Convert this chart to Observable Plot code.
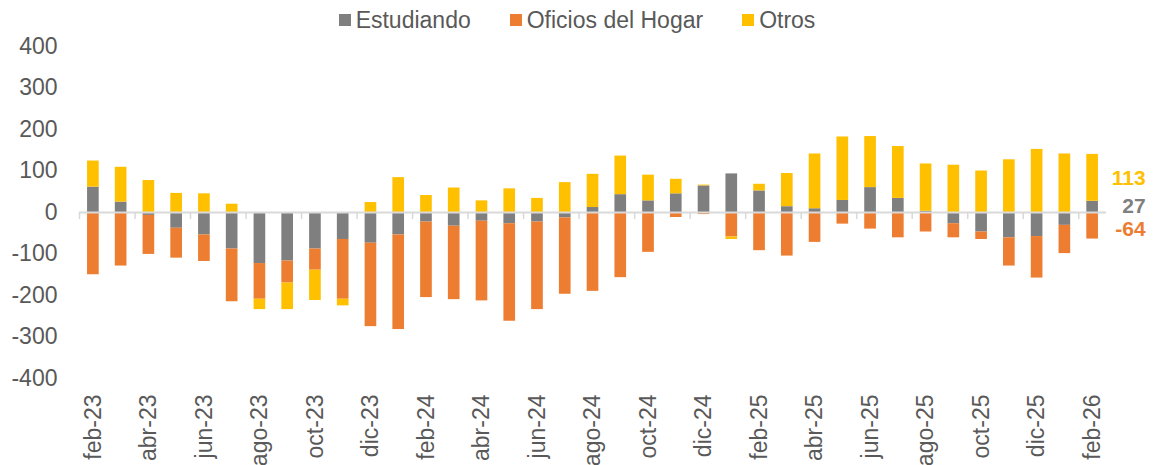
<!DOCTYPE html>
<html>
<head>
<meta charset="utf-8">
<script src="https://cdn.jsdelivr.net/npm/d3@7"></script>
<script src="https://cdn.jsdelivr.net/npm/@observablehq/plot@0.6"></script>
<style>
  body { margin: 0; background: #fff; font-family: "Liberation Sans", Arial, sans-serif; }
  #legend { box-sizing: border-box; height: 36px; padding-top: 7px; display: flex; justify-content: center; align-items: flex-start; font-size: 23px; line-height: 26px; color: #595959; }
  .item { display: flex; align-items: center; }
  .item + .item { margin-left: 39px; }
  .sw { width: 12px; height: 12px; margin-right: 5px; }
  #chart svg { display: block; }
</style>
</head>
<body>
<div id="legend"></div>
<div id="chart"></div>
<script>
const months = ["feb-23","mar-23","abr-23","may-23","jun-23","jul-23","ago-23","sep-23","oct-23","nov-23","dic-23","ene-24","feb-24","mar-24","abr-24","may-24","jun-24","jul-24","ago-24","sep-24","oct-24","nov-24","dic-24","ene-25","feb-25","mar-25","abr-25","may-25","jun-25","jul-25","ago-25","sep-25","oct-25","nov-25","dic-25","ene-26","feb-26"];
const estudiando = [61,25,-7,-38,-54,-88,-123,-117,-88,-65,-74,-54,-23,-33,-21,-27,-23,-13,12,43,28,45,64,93,52,14,9,29,60,34,3,-27,-47,-61,-58,-31,27];
const oficios = [-150,-129,-94,-72,-64,-127,-86,-53,-51,-144,-201,-228,-182,-177,-192,-235,-211,-184,-190,-157,-96,-12,-5,-59,-92,-105,-72,-28,-40,-61,-47,-34,-18,-68,-100,-68,-64];
const otros = [63,84,77,46,45,20,-25,-64,-73,-16,24,84,41,59,28,57,34,72,80,93,62,35,2,-6,16,80,132,153,123,125,114,114,100,127,152,141,113];
const seriesNames = ["Estudiando", "Oficios del Hogar", "Otros"];
const seriesColors = ["#7F7F7F", "#ED7D31", "#FFC000"];
const yTicks = [-400,-300,-200,-100,0,100,200,300,400];
const labelMonths = months.filter((m, i) => i % 2 === 0);

const seriesValues = [estudiando, oficios, otros];
const rows = [];
months.forEach((m, i) => {
  seriesNames.forEach((s, j) => rows.push({month: m, series: s, value: seriesValues[j][i]}));
});

// End labels at the midpoint of each segment of the last bar
const last = months.length - 1;
const labelNudge = [-1, 3, 0];
const endLabels = [];
let pos = 0, neg = 0;
seriesNames.forEach((s, j) => {
  const v = seriesValues[j][last];
  let mid;
  if (v >= 0) { mid = pos + v / 2; pos += v; } else { mid = neg + v / 2; neg += v; }
  endLabels.push({month: months[last], series: s, value: v, mid, color: seriesColors[j], nudge: labelNudge[j]});
});

// legend
const legend = document.getElementById("legend");
seriesNames.forEach((s, j) => {
  const it = document.createElement("div");
  it.className = "item";
  it.innerHTML = `<span class="sw" style="background:${seriesColors[j]}"></span><span>${s}</span>`;
  legend.appendChild(it);
});

const W = 1154, H = 429, ML = 79, MR = 48;
const step = (W - ML - MR) / months.length;

const chart = Plot.plot({
  width: W,
  height: H,
  marginLeft: ML,
  marginRight: MR,
  marginTop: 10,
  marginBottom: 87,
  style: {fontFamily: "'Liberation Sans', Arial, sans-serif", fontSize: "23px", color: "#595959", background: "#fff", overflow: "visible"},
  x: {domain: months, paddingInner: 0.58, paddingOuter: 0.29, round: false, label: null},
  y: {domain: [-400, 400], label: null},
  color: {domain: seriesNames, range: seriesColors},
  marks: [
    Plot.axisY({ticks: yTicks, tickSize: 0, tickPadding: 22, tickFormat: d => String(d), fontSize: 23, fill: "#595959", label: null}),
    Plot.axisX({ticks: labelMonths, tickSize: 0, tickPadding: 16, tickRotate: -90, fontSize: 23, fill: "#595959", label: null}),
    Plot.barY(rows, {x: "month", y: "value", fill: "series"}),
    Plot.ruleY([0], {stroke: "#D9D9D9", strokeWidth: 2}),
    Plot.ruleX(labelMonths, {x: d => d, y1: 0, y2: -17, stroke: "#D9D9D9", strokeWidth: 1.5, dx: -step / 2}),
    ...endLabels.map(d => Plot.text([d], {x: "month", y: "mid", text: e => String(e.value), fill: "color", textAnchor: "end", dx: 53, dy: d.nudge, fontSize: 21, fontWeight: "bold"}))
  ]
});
document.getElementById("chart").appendChild(chart);
</script>
</body>
</html>
